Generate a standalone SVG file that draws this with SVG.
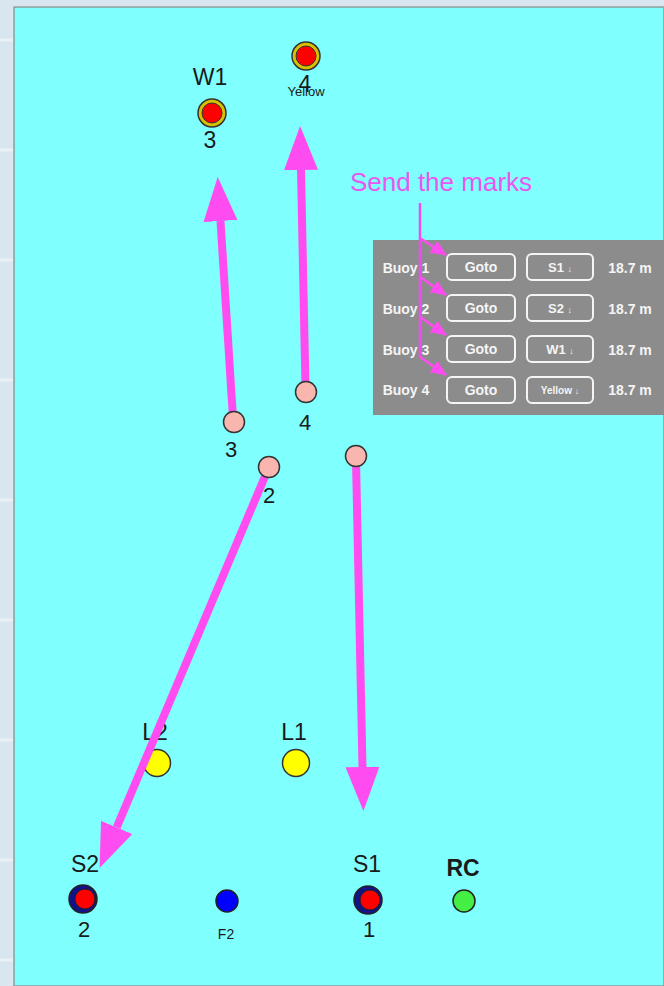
<svg xmlns="http://www.w3.org/2000/svg" width="664" height="986" viewBox="0 0 664 986">
<style>
.t{font-family:"Liberation Sans",Arial,sans-serif;fill:#1a1a1a;text-anchor:middle}
.lbl{font-size:23px}
.pt{font-size:22px}
.pw{font-family:"Liberation Sans",Arial,sans-serif;fill:#f5f5f5;font-weight:bold;text-anchor:middle}
.btn{fill:none;stroke:#f5f5f5;stroke-width:2}
.pink{fill:#F9B6AE;stroke:#333;stroke-width:1.5}
.arr{stroke:#FF4CF0;stroke-width:8;fill:none}
</style>
<defs>
<marker id="head" markerUnits="userSpaceOnUse" markerWidth="44" markerHeight="36" refX="0" refY="18" orient="auto">
<path d="M0,1 L44,18 L0,35 Z" fill="#FF4CF0"/>
</marker>
<marker id="shead" markerUnits="userSpaceOnUse" markerWidth="16" markerHeight="14" refX="15" refY="7" orient="auto">
<path d="M0,0 L16,7 L0,14 Z" fill="#FF4CF0"/>
</marker>
</defs>
<!-- water background -->
<rect x="0" y="0" width="664" height="986" fill="#d9e6ef"/>
<g stroke="#eef4f8" stroke-width="3" opacity="0.8">
<line x1="0" y1="40" x2="13" y2="40"/><line x1="0" y1="150" x2="13" y2="150"/><line x1="0" y1="260" x2="13" y2="260"/><line x1="0" y1="380" x2="13" y2="380"/><line x1="0" y1="500" x2="13" y2="500"/><line x1="0" y1="620" x2="13" y2="620"/><line x1="0" y1="740" x2="13" y2="740"/><line x1="0" y1="860" x2="13" y2="860"/><line x1="0" y1="960" x2="13" y2="960"/>
</g>
<rect x="13" y="6" width="651" height="980" fill="#fafafa"/>
<rect x="14" y="7" width="650" height="979" fill="#80FFFF" stroke="#8a9a9a" stroke-width="1.5"/>

<g id="L2"><text class="t lbl" x="155" y="740">L2</text><circle cx="157" cy="763" r="13.5" fill="#FFFF00" stroke="#333" stroke-width="1.5"/></g>
<g id="L1"><text class="t lbl" x="294" y="740">L1</text><circle cx="296" cy="763" r="13.5" fill="#FFFF00" stroke="#333" stroke-width="1.5"/></g>
<g id="S2"><text class="t lbl" x="85" y="872">S2</text><circle cx="83" cy="899" r="14" fill="#12128a" stroke="#222" stroke-width="1.5"/><circle cx="85" cy="899" r="10" fill="#FF0000" stroke="#222" stroke-width="1"/><text class="t pt" x="84" y="937">2</text></g>
<g id="F2"><circle cx="227" cy="901" r="11" fill="#0000FF" stroke="#222" stroke-width="1.5"/><text class="t" font-size="14" x="226" y="939">F2</text></g>
<g id="S1"><text class="t lbl" x="367" y="872">S1</text><circle cx="368" cy="900" r="14" fill="#12128a" stroke="#222" stroke-width="1.5"/><circle cx="370" cy="900" r="10" fill="#FF0000" stroke="#222" stroke-width="1"/><text class="t pt" x="369" y="937">1</text></g>
<g id="RC"><text class="t" font-size="23" font-weight="bold" x="463" y="876">RC</text><circle cx="464" cy="901" r="11" fill="#44EE44" stroke="#222" stroke-width="1.5"/></g>

<g id="W1"><text class="t lbl" x="210" y="85">W1</text><circle cx="212" cy="113" r="14" fill="#D8C200" stroke="#333" stroke-width="1.5"/><circle cx="212" cy="113" r="10" fill="#FF0000" stroke="#333" stroke-width="1"/><text class="t lbl" x="210" y="148">3</text></g>
<g id="Yellow"><circle cx="306" cy="56" r="14" fill="#D8C200" stroke="#333" stroke-width="1.5"/><circle cx="306" cy="56" r="10" fill="#FF0000" stroke="#333" stroke-width="1"/><text class="t lbl" x="305" y="92">4</text><text class="t" font-size="13" x="306" y="96">Yellow</text></g>

<g id="connectors">
<line class="arr" x1="356" y1="460" x2="362.5" y2="767" marker-end="url(#head)"/>
<line class="arr" x1="269" y1="467" x2="116.7" y2="827.4" marker-end="url(#head)"/>
<line class="arr" x1="233" y1="418" x2="220.5" y2="221" marker-end="url(#head)"/>
<line class="arr" x1="305.5" y1="388" x2="301" y2="170" marker-end="url(#head)"/>
</g>

<g id="boat1"><circle class="pink" cx="356" cy="456" r="10.5"/></g>
<g id="boat2"><circle class="pink" cx="269" cy="467" r="10.5"/><text class="t pt" x="269" y="503">2</text></g>
<g id="boat3"><circle class="pink" cx="234" cy="422" r="10.5"/><text class="t pt" x="231" y="457">3</text></g>
<g id="boat4"><circle class="pink" cx="306" cy="392" r="10.5"/><text class="t pt" x="305" y="430">4</text></g>

<g id="panel">
<rect x="373" y="240" width="291" height="175" fill="#8c8c8c"/>
<g font-size="14">
<text class="pw" x="406" y="273">Buoy 1</text>
<text class="pw" x="406" y="314">Buoy 2</text>
<text class="pw" x="406" y="355">Buoy 3</text>
<text class="pw" x="406" y="395">Buoy 4</text>
</g>
<rect class="btn" x="447" y="254" width="68" height="26" rx="5"/>
<rect class="btn" x="447" y="295" width="68" height="26" rx="5"/>
<rect class="btn" x="447" y="336" width="68" height="26" rx="5"/>
<rect class="btn" x="447" y="377" width="68" height="26" rx="5"/>
<g font-size="14">
<text class="pw" x="481" y="272">Goto</text>
<text class="pw" x="481" y="313">Goto</text>
<text class="pw" x="481" y="354">Goto</text>
<text class="pw" x="481" y="395">Goto</text>
</g>
<rect class="btn" x="527" y="254" width="66" height="26" rx="5"/>
<rect class="btn" x="527" y="295" width="66" height="26" rx="5"/>
<rect class="btn" x="527" y="336" width="66" height="26" rx="5"/>
<rect class="btn" x="527" y="377" width="66" height="26" rx="5"/>
<text class="pw" font-size="13" x="560" y="272">S1 <tspan font-size="9">↓</tspan></text>
<text class="pw" font-size="13" x="560" y="313">S2 <tspan font-size="9">↓</tspan></text>
<text class="pw" font-size="13" x="560" y="354">W1 <tspan font-size="9">↓</tspan></text>
<text class="pw" font-size="10" x="560" y="394">Yellow <tspan font-size="9">↓</tspan></text>
<g font-size="14">
<text class="pw" x="630" y="273">18.7 m</text>
<text class="pw" x="630" y="314">18.7 m</text>
<text class="pw" x="630" y="355">18.7 m</text>
<text class="pw" x="630" y="395">18.7 m</text>
</g>
</g>

<g id="annotation">
<text x="441" y="191" font-family="'Liberation Sans',Arial,sans-serif" font-size="26" fill="#E857F0" text-anchor="middle">Send the marks</text>
<line x1="420" y1="203" x2="420" y2="358" stroke="#EE4CF0" stroke-width="2.5"/>
<line x1="420" y1="238" x2="446" y2="255" stroke="#FF4CF0" stroke-width="2.5" marker-end="url(#shead)"/>
<line x1="420" y1="277" x2="446" y2="295" stroke="#FF4CF0" stroke-width="2.5" marker-end="url(#shead)"/>
<line x1="420" y1="317" x2="446" y2="335" stroke="#FF4CF0" stroke-width="2.5" marker-end="url(#shead)"/>
<line x1="420" y1="357" x2="446" y2="375" stroke="#FF4CF0" stroke-width="2.5" marker-end="url(#shead)"/>
</g>
</svg>
